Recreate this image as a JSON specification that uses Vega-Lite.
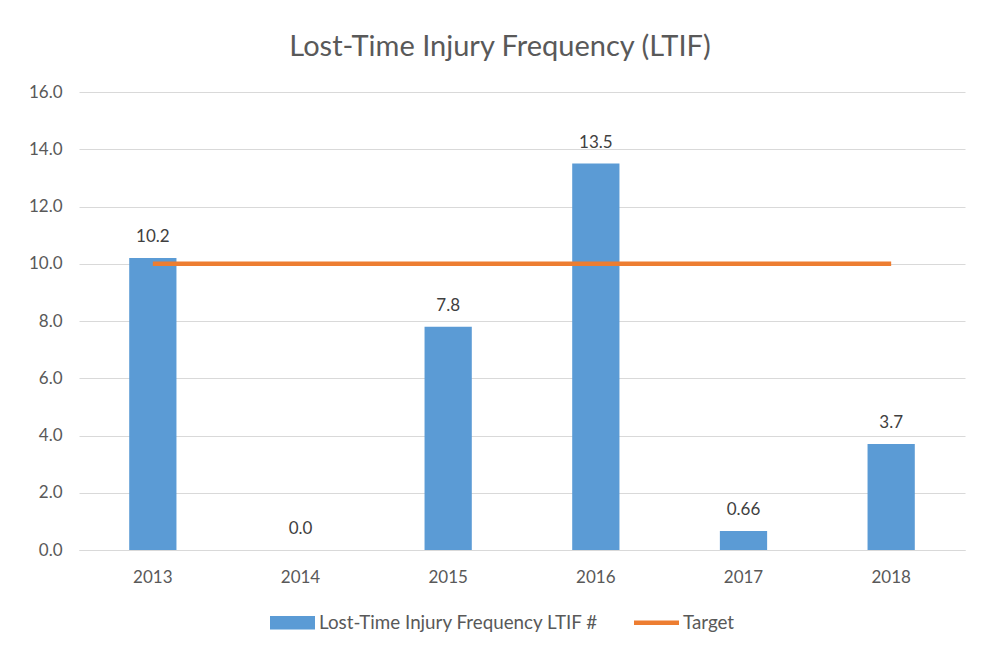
{
  "$schema": "https://vega.github.io/schema/vega-lite/v6.json",
  "width": 886,
  "height": 458,
  "padding": {"left": 28, "top": 33, "right": 16, "bottom": 10},
  "background": "white",
  "title": {
    "text": "Lost-Time Injury Frequency (LTIF)",
    "font": "Lato",
    "fontSize": 29,
    "fontWeight": "normal",
    "color": "#595959",
    "anchor": "middle",
    "dx": -22,
    "offset": 21
  },
  "config": {
    "font": "Lato",
    "view": {"stroke": null},
    "axis": {"labelFont": "Lato", "labelColor": "#595959", "labelFontSize": 17, "ticks": false, "title": null},
    "legend": {"labelFont": "Lato"}
  },
  "data": {
    "values": [
      {"year": "2013", "ltif": 10.2, "label": "10.2", "target": 10},
      {"year": "2014", "ltif": 0, "label": "0.0", "target": 10},
      {"year": "2015", "ltif": 7.8, "label": "7.8", "target": 10},
      {"year": "2016", "ltif": 13.5, "label": "13.5", "target": 10},
      {"year": "2017", "ltif": 0.66, "label": "0.66", "target": 10},
      {"year": "2018", "ltif": 3.7, "label": "3.7", "target": 10}
    ]
  },
  "encoding": {
    "x": {
      "field": "year",
      "type": "nominal",
      "scale": {"paddingInner": 0.68, "paddingOuter": 0.34},
      "axis": {"labelAngle": 0, "domainColor": "#D9D9D9", "domainWidth": 1, "labelPadding": 19, "grid": false}
    }
  },
  "layer": [
    {
      "mark": {"type": "bar", "color": "#5B9BD5"},
      "encoding": {
        "y": {
          "field": "ltif",
          "type": "quantitative",
          "scale": {"domain": [0, 16]},
          "axis": {"values": [0, 2, 4, 6, 8, 10, 12, 14, 16], "format": ".1f", "domain": false, "gridColor": "#D9D9D9", "labelPadding": 17}
        },
        "color": {
          "datum": "Lost-Time Injury Frequency LTIF #",
          "type": "nominal",
          "scale": {"domain": ["Lost-Time Injury Frequency LTIF #", "Target"], "range": ["#5B9BD5", "#ED7D31"]},
          "legend": {
            "title": null,
            "orient": "none",
            "direction": "horizontal",
            "legendX": 191,
            "legendY": 508,
            "symbolSize": 2025,
            "symbolType": "M-1,-0.3H1V0.3H-1Z",
            "labelFontSize": 18.8,
            "labelLimit": 0,
            "labelColor": "#595959",
            "labelOffset": 4,
            "columnPadding": 35,
            "encode": {
              "symbols": {
                "update": {
                  "shape": {"signal": "datum.value === 'Target' ? 'M-1,-0.1H1V0.1H-1Z' : 'M-1,-0.3H1V0.3H-1Z'"},
                  "fill": {"signal": "scale('color', datum.value)"},
                  "stroke": {"signal": "scale('color', datum.value)"},
                  "strokeWidth": {"value": 0},
                  "opacity": {"value": 1},
                  "fillOpacity": {"value": 1}
                }
              }
            }
          }
        }
      }
    },
    {
      "mark": {"type": "line", "color": "#ED7D31", "strokeWidth": 4.5, "strokeCap": "butt"},
      "encoding": {
        "y": {"field": "target", "type": "quantitative"},
        "color": {"datum": "Target", "type": "nominal"}
      }
    },
    {
      "mark": {"type": "text", "baseline": "bottom", "dy": -12, "fontSize": 17, "color": "#404040", "font": "Lato"},
      "encoding": {
        "y": {"field": "ltif", "type": "quantitative"},
        "text": {"field": "label"}
      }
    }
  ]
}
